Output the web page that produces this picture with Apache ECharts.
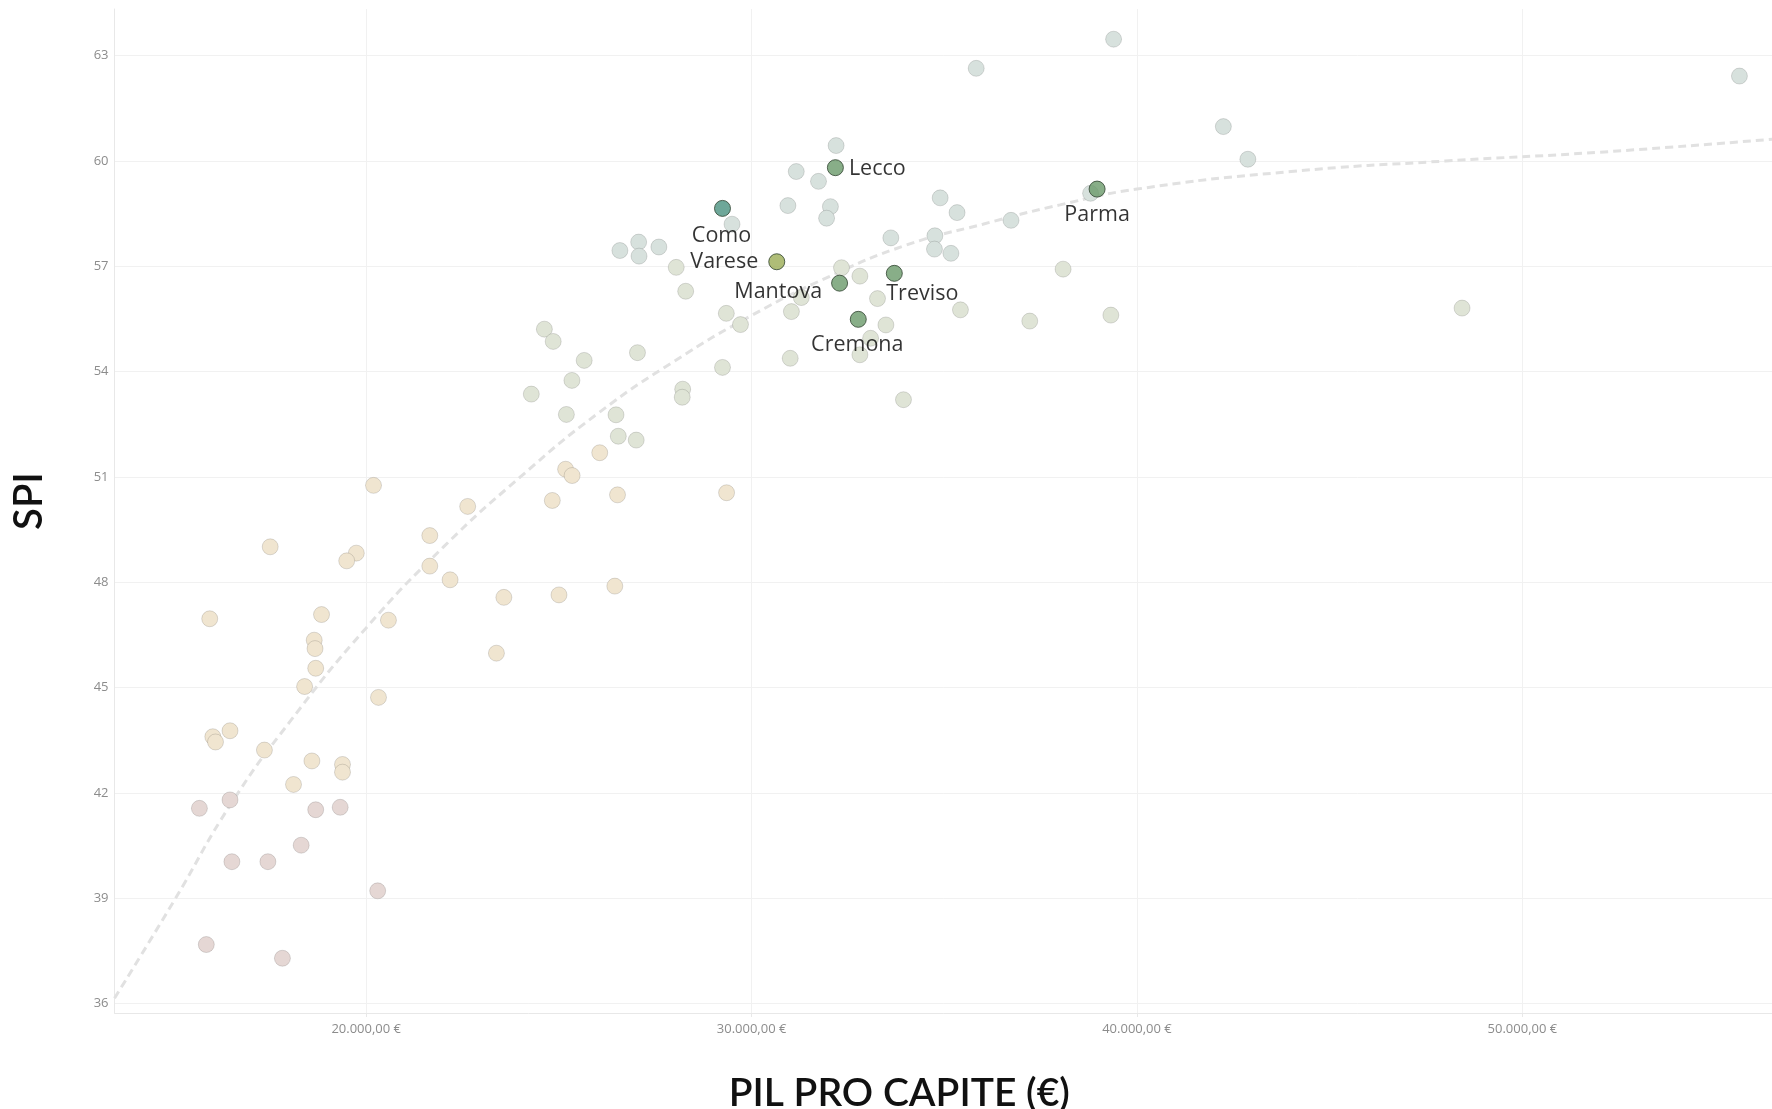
<!DOCTYPE html>
<html>
<head>
<meta charset="utf-8">
<script src="https://cdn.jsdelivr.net/npm/echarts@6.0.0/dist/echarts.min.js"></script>
<style>
  html, body { margin: 0; padding: 0; background: #fff; }
  #chart { width: 1772px; height: 1109px; }
</style>
</head>
<body>
<div id="chart"></div>
<script>
// PIL pro capite (€) and SPI, one entry per province
const pil = [
  39393, 35828, 55632, 42241, 42877, 32193, 31159, 31736, 38796, 34893,
  35331, 30942, 32045, 31946, 29492, 36731, 33613, 34756, 34745, 35172,
  27070, 27594, 26583, 27079, 28044, 38083, 32333, 32810, 28290, 33267,
  31290, 31033, 29344, 29712, 35419, 37218, 39322, 33485, 33088, 32810,
  31002, 27039, 29245, 28212, 28200, 33941, 48435, 24623, 24852, 25656,
  25338, 24284, 25194, 26482, 26541, 27006, 26060, 25174, 25343, 24829,
  26521, 29351, 20190, 22633, 21650, 17509, 19743, 19494, 21650, 22177,
  23572, 25002, 26451, 15940, 18841, 20577, 18651, 18672, 23379, 18690,
  18402, 20319, 16466, 16020, 16090, 17359, 18591, 19385, 19385, 18114,
  15672, 16466, 18690, 19325, 18313, 16515, 17449, 20298, 15851, 17826
]
const spi = [
  63.47, 62.64, 62.42, 60.98, 60.05, 60.44, 59.70, 59.42, 59.08, 58.95,
  58.53, 58.73, 58.70, 58.37, 58.20, 58.31, 57.81, 57.87, 57.49, 57.37,
  57.69, 57.55, 57.45, 57.29, 56.97, 56.92, 56.96, 56.72, 56.29, 56.08,
  56.11, 55.71, 55.66, 55.34, 55.76, 55.44, 55.61, 55.33, 54.95, 54.48,
  54.38, 54.54, 54.12, 53.50, 53.27, 53.20, 55.81, 55.21, 54.86, 54.32,
  53.75, 53.36, 52.78, 52.77, 52.16, 52.05, 51.69, 51.22, 51.04, 50.33,
  50.49, 50.55, 50.76, 50.16, 49.33, 49.01, 48.83, 48.61, 48.46, 48.07,
  47.57, 47.64, 47.89, 46.96, 47.08, 46.92, 46.35, 46.11, 45.98, 45.55,
  45.03, 44.72, 43.77, 43.60, 43.45, 43.22, 42.91, 42.81, 42.59, 42.24,
  41.56, 41.80, 41.52, 41.59, 40.51, 40.04, 40.04, 39.21, 37.68, 37.29
]

// labelled provinces
const hlNames = ['Lecco', 'Parma', 'Como', 'Varese', 'Treviso', 'Mantova', 'Cremona']
const hlPil = [32174, 38965, 29245, 30653, 33703, 32283, 32768]
const hlSpi = [59.81, 59.20, 58.65, 57.13, 56.80, 56.52, 55.49]

// trend line
const trendPil = [13469, 15000, 16500, 18000, 20000, 22000, 24000, 26000, 28000, 30000,
  32000, 34000, 36000, 38000, 40000, 44000, 48000, 52000, 56477]
const trendSpi = [36.15, 38.9, 41.7, 44.0, 46.7, 49.0, 51.0, 52.8, 54.3, 55.6,
  56.7, 57.6, 58.2, 58.75, 59.2, 59.7, 60.0, 60.25, 60.62]

const xTicks = [20000, 30000, 40000, 50000]
const yTicks = [36, 39, 42, 45, 48, 51, 54, 57, 60, 63]

// look of the labelled points
const hlStyle = {
  Lecco:   { color: '#6a9a6a', pos: 'right', dist: 5, off: [0, 1] },
  Parma:   { color: '#6a9a6a', pos: 'inside', off: [0, 26] },
  Como:    { color: '#4a9180', pos: 'inside', off: [-1, 27] },
  Varese:  { color: '#9bac55', pos: 'left', dist: 10, off: [0, 0] },
  Treviso: { color: '#6a9a6a', pos: 'inside', off: [28, 21] },
  Mantova: { color: '#6a9a6a', pos: 'left', dist: 9, off: [0, 9] },
  Cremona: { color: '#6a9a6a', pos: 'inside', off: [-1, 26] }
}

let baseData = pil.map((v, i) => [v, spi[i]])
let trendData = trendPil.map((v, i) => [v, trendSpi[i]])
let hlData = hlNames.map((n, i) => {
  let s = hlStyle[n]
  return {
    name: n,
    value: [hlPil[i], hlSpi[i]],
    itemStyle: { color: s.color },
    label: { position: s.pos, distance: s.dist || 0, offset: s.off }
  }
})

function euro(v) {
  return (v / 1000) + '.000,00 €'
}

let chart = echarts.init(document.getElementById('chart'))
chart.setOption({
  backgroundColor: '#ffffff',
  animation: false,
  grid: {
    left: 114.5,
    top: 9,
    right: 0,
    bottom: 96,
    outerBoundsMode: 'none'
  },
  visualMap: {
    show: false,
    type: 'piecewise',
    seriesIndex: 0,
    dimension: 1,
    pieces: [
      { lt: 42, color: '#e5d7d4' },
      { gte: 42, lt: 51.9, color: '#f0e5d0' },
      { gte: 51.9, lt: 57, color: '#dfe4d6' },
      { gte: 57, color: '#d7e1dd' }
    ]
  },
  xAxis: {
    type: 'value',
    min: 13469,
    max: 56477,
    minInterval: 10000,
    maxInterval: 10000,
    name: 'PIL PRO CAPITE (€)',
    nameLocation: 'middle',
    nameGap: 61,
    nameTextStyle: {
      fontFamily: 'Lato',
      fontSize: 39,
      fontWeight: 600,
      color: '#111111',
      padding: [0, 88, 0, 0]
    },
    axisLine: { show: true, lineStyle: { color: '#e8e8e8', width: 1 } },
    axisTick: { show: true, length: 4, lineStyle: { color: '#e8e8e8' } },
    axisLabel: {
      margin: 10,
      fontFamily: 'Open Sans',
      fontSize: 13,
      color: '#8c8c8c',
      showMinLabel: false,
      showMaxLabel: false,
      formatter: v => xTicks.indexOf(v) >= 0 ? euro(v) : ''
    },
    // 网格线
    splitLine: {
      show: true,
      showMinLine: false,
      showMaxLine: false,
      lineStyle: { color: '#f1f1f1', width: 1 }
    }
  },
  yAxis: {
    type: 'value',
    min: 35.73,
    max: 64.33,
    minInterval: 3,
    maxInterval: 3,
    name: 'SPI',
    nameLocation: 'middle',
    nameGap: 65,
    nameTextStyle: {
      fontFamily: 'Lato',
      fontSize: 40,
      fontWeight: 600,
      color: '#111111',
      padding: [0, 0, 0, 20]
    },
    axisLine: { show: true, lineStyle: { color: '#e8e8e8', width: 1 } },
    axisTick: { show: false },
    axisLabel: {
      margin: 6,
      fontFamily: 'Open Sans',
      fontSize: 13,
      color: '#8c8c8c',
      showMinLabel: false,
      showMaxLabel: false,
      formatter: v => yTicks.indexOf(Math.round(v * 100) / 100) >= 0 ? String(Math.round(v)) : ''
    },
    splitLine: {
      show: true,
      showMinLine: false,
      showMaxLine: false,
      lineStyle: { color: '#f1f1f1', width: 1 }
    }
  },
  series: [
    {
      name: 'province',
      type: 'scatter',
      symbol: 'circle',
      symbolSize: 16,
      z: 3,
      itemStyle: { borderColor: 'rgba(0,0,0,0.13)', borderWidth: 1, opacity: 1 },
      data: baseData
    },
    {
      name: 'trend',
      type: 'line',
      smooth: true,
      showSymbol: false,
      silent: true,
      z: 2,
      lineStyle: { color: '#e1e1e1', width: 3, type: [8, 5] },
      data: trendData
    },
    {
      name: 'evidenza',
      type: 'scatter',
      symbol: 'circle',
      symbolSize: 16,
      z: 5,
      itemStyle: { borderColor: '#2f422f', borderWidth: 1 },
      label: {
        show: true,
        formatter: '{b}',
        fontFamily: 'Open Sans',
        fontSize: 21.5,
        fontWeight: 500,
        color: '#000000'
      },
      data: hlData
    }
  ]
})
</script>
</body>
</html>
